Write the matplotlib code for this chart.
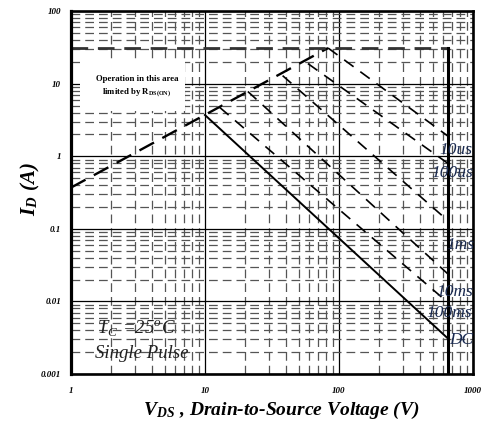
import matplotlib
matplotlib.use('Agg')
import matplotlib.pyplot as plt
from matplotlib.patches import Rectangle
from matplotlib.ticker import LogLocator, NullFormatter

plt.rcParams['font.family'] = ['Liberation Serif', 'DejaVu Serif']
plt.rcParams['mathtext.fontset'] = 'stix'

# R_DS(on) limit line
v_rds = [1, 83]
i_rds = [0.37, 31]

# max drain current / max voltage
id_max = 31
v_max = 650

# pulse lines (start on the Rds line, end at v_max)
pulse_labels = ['10us', '100us', '1ms', '10ms', '100ms', 'DC']
v_start = [83, 58.7, 38, 20.9, 12.9, 10]
i_start = [31, 18.9, 12.9, 7.8, 4.7, 3.7]
i_end = [1.9, 0.8, 0.13, 0.024, 0.0097, 0.0031]

x_ticks = [1, 10, 100, 1000]
x_ticklabels = ['1', '10', '100', '1000']
y_ticks = [0.001, 0.01, 0.1, 1, 10, 100]
y_ticklabels = ['0.001', '0.01', '0.1', '1', '10', '100']

fig = plt.figure(figsize=(4.83, 4.26), dpi=100)
ax = fig.add_axes([0.147, 0.122, 0.832, 0.852])
ax.set_xscale('log')
ax.set_yscale('log')
ax.set_xlim(1, 1000)
ax.set_ylim(0.001, 100)

# grid
ax.xaxis.set_minor_locator(LogLocator(base=10, subs=range(2, 10)))
ax.yaxis.set_minor_locator(LogLocator(base=10, subs=range(2, 10)))
ax.xaxis.set_minor_formatter(NullFormatter())
ax.yaxis.set_minor_formatter(NullFormatter())
ax.grid(which='major', color='black', linestyle='-', linewidth=0.9)
ax.grid(which='minor', color='#555555', linestyle=(0, (7, 4)), linewidth=0.9)
ax.tick_params(which='both', length=0)

ax.set_xticks(x_ticks)
ax.set_xticklabels(x_ticklabels)
ax.set_yticks(y_ticks)
ax.set_yticklabels(y_ticklabels)
for lab in ax.get_xticklabels() + ax.get_yticklabels():
    lab.set_fontsize(6.5)
    lab.set_fontweight('bold')
    lab.set_fontstyle('italic')
ax.tick_params(axis='x', pad=9)
ax.tick_params(axis='y', pad=7)

for side in ['top', 'right', 'bottom']:
    ax.spines[side].set_linewidth(1.9)
ax.spines['left'].set_linewidth(2.3)

# white box behind the note (above the grid, below the curves)
ax.add_patch(Rectangle((0.022, 0.725), 0.262, 0.143, transform=ax.transAxes,
                       facecolor='white', edgecolor='none', zorder=1.8))

# limits
ax.plot(v_rds, i_rds, color='black', linewidth=1.7, linestyle=(0, (7, 4)))
ax.plot([1, v_max], [id_max, id_max], color='#333333', linewidth=2.0, linestyle=(0, (6, 3.5)))
ax.plot([v_max, v_max], [id_max, 0.001], color='black', linewidth=2.2)

for k, lab in enumerate(pulse_labels):
    if lab == 'DC':
        ax.plot([v_start[k], v_max], [i_start[k], i_end[k]], color='black', linewidth=1.4)
    else:
        ax.plot([v_start[k], v_max], [i_start[k], i_end[k]], color='black', linewidth=1.2,
                linestyle=(0, (7, 5)))

# labels at the right edge (figure fraction positions)
label_pos = {
    '10us': (0.909, 1 - 150 / 426),
    '100us': (0.893, 1 - 173 / 426),
    '1ms': (0.925, 1 - 245 / 426),
    '10ms': (0.903, 1 - 292 / 426),
    '100ms': (0.882, 1 - 313 / 426),
    'DC': (0.930, 1 - 340 / 426),
}
for lab in pulse_labels:
    fx, fy = label_pos[lab]
    fig.text(fx, fy, lab, fontsize=12.5, fontstyle='italic', color='#1a2a50',
             ha='left', va='center')

ax.text(0.164, 0.813, 'Operation in this area', transform=ax.transAxes,
        fontsize=6.3, fontweight='bold', ha='center', va='center', zorder=3)
ax.text(0.164, 0.774, r'limited by R$_{\mathregular{DS(ON)}}$', transform=ax.transAxes,
        fontsize=6.3, fontweight='bold', ha='center', va='center', zorder=3)

ax.text(0.065, 0.125, r'T$_{\mathregular{C}}$ =25$^{\mathregular{o}}$C', transform=ax.transAxes,
        fontsize=13.5, fontstyle='italic', ha='left', va='center', color='#222222')
ax.text(0.060, 0.057, 'Single Pulse', transform=ax.transAxes,
        fontsize=13.5, fontstyle='italic', ha='left', va='center', color='#222222')

fig.text(0.063, 0.555, r'I$_{\mathregular{D}}$ (A)', rotation=90, fontsize=15,
         fontweight='bold', fontstyle='italic', ha='center', va='center')
fig.text(0.583, 0.037, r'V$_{\mathregular{DS}}$ , Drain-to-Source Voltage (V)', fontsize=14,
         fontweight='bold', fontstyle='italic', ha='center', va='center')

fig.savefig('out.png', dpi=100)
